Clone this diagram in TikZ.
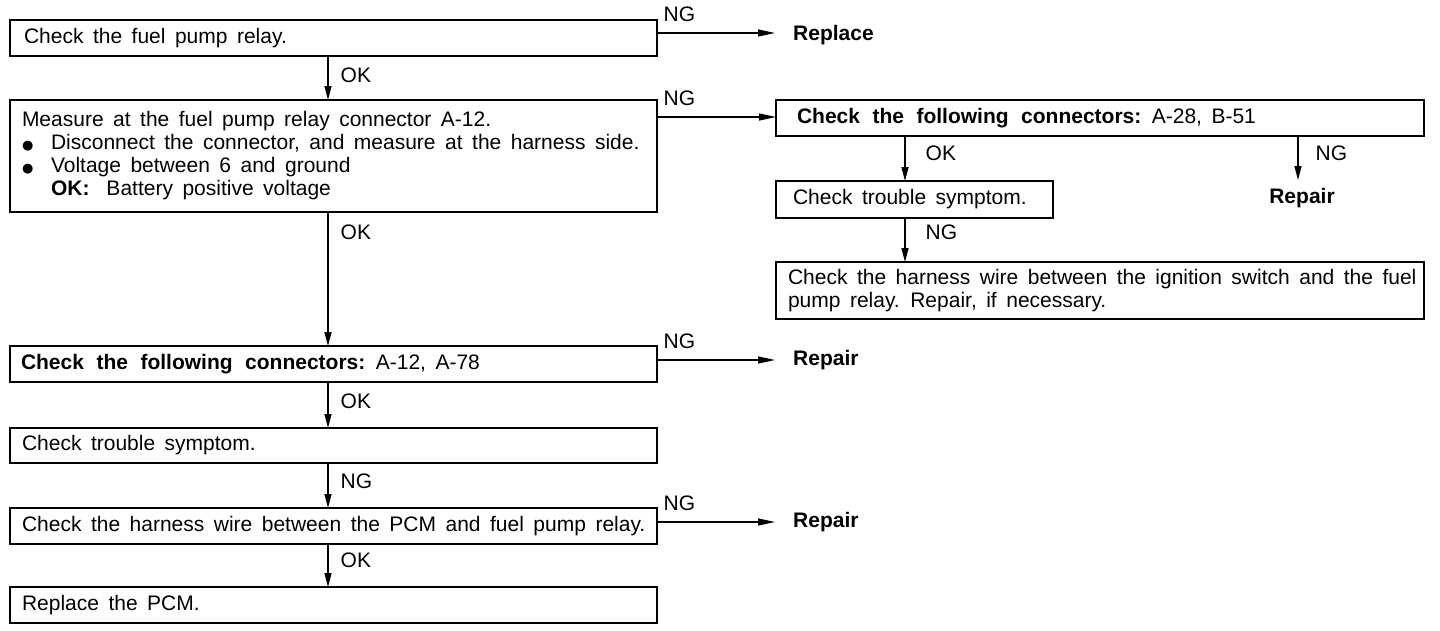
\documentclass[tikz,border=0pt]{standalone}
\usepackage{fontspec}
\setmainfont{Liberation Sans}
\newfontfamily\dejavu{DejaVu Sans}
\usetikzlibrary{arrows.meta}
\newcommand{\regfont}{\fontsize{21}{23}\selectfont}
\newcommand{\regsp}{\spaceskip=9.5pt plus 2pt minus 1pt\relax}
\newcommand{\bx}[1]{{\bfseries\spaceskip=12.5pt plus 2pt minus 1pt\relax #1}}
\newcommand{\blt}{\makebox[29pt][l]{\raisebox{0.3pt}{\dejavu\fontsize{13}{13}\selectfont ●}}}
\newcommand{\pad}[1][12pt]{\regsp\hspace*{#1}}
\begin{document}
\begin{tikzpicture}[x=1pt,y=-1pt,
  box/.style={draw, line width=1.6pt, rectangle, anchor=north west, inner xsep=0pt, inner ysep=0pt,
    align=left, font=\regfont, outer sep=0pt},
  thickbox/.style={box, line width=2.8pt},
  lbl/.style={inner sep=0pt, font=\regfont},
  res/.style={inner sep=0pt, font=\regfont\bfseries},
  arr/.style={line width=1.4pt, -{Triangle[length=14pt,width=7pt]}},
  harr/.style={line width=1.2pt, -{Triangle[length=17pt,width=7pt]}}
]
\useasboundingbox (0,0) rectangle (1440,630);
\fill[white] (0,0) rectangle (1440,630);

% left column
\node[thickbox, text width=647pt, minimum height=36pt] (b1) at (10,20) {\pad[14pt]Check the fuel pump relay.};
\node[box, text width=647pt, minimum height=112pt] (b2) at (10,100)
 {\pad Measure at the fuel pump relay connector A-12.\\
  \pad\blt Disconnect the connector, and measure at the harness side.\\
  \pad\blt Voltage between 6 and ground\\
  \pad[41pt]\textbf{OK:}\hspace{17pt}Battery positive voltage};
\node[box, text width=647pt, minimum height=36pt] (b3) at (10,346) {\pad[11pt]\bx{Check the following connectors:} A-12, A-78};
\node[box, text width=647pt, minimum height=35pt] (b4) at (10,428) {\pad Check trouble symptom.};
\node[box, text width=647pt, minimum height=36pt] (b5) at (10,508) {\pad Check the harness wire between the PCM and fuel pump relay.};
\node[box, text width=647pt, minimum height=36pt] (b6) at (10,587) {\pad Replace the PCM.};

% right column
\node[box, text width=648pt, minimum height=36pt] (r1) at (776,100) {\pad[21pt]\bx{Check the following connectors:} A-28, B-51};
\node[box, text width=277pt, minimum height=37pt] (r2) at (776,181) {\pad[17pt]Check trouble symptom.};
\node[box, text width=648pt, minimum height=57pt] (r3) at (776,262)
 {\pad Check the harness wire between the ignition switch and the fuel\\\pad pump relay. Repair, if necessary.};

% results
\node[res, anchor=west] (rep1) at (793,35) {Replace};
\node[res, anchor=west] (rep3) at (793,360) {Repair};
\node[res, anchor=west] (rep5) at (793,522) {Repair};
\node[res] (repR) at (1302,198) {Repair};

% column coordinates
\coordinate (cx) at (328,0);
\coordinate (rx) at (905,0);
\coordinate (qx) at (1298,0);
\coordinate (qend) at (1298,180);

% vertical arrows left
\draw[arr] (cx |- b1.south) -- (cx |- b2.north) node[lbl, pos=0, anchor=west, xshift=12pt, yshift=-19pt] {OK};
\draw[arr] (cx |- b2.south) -- (cx |- b3.north) node[lbl, pos=0, anchor=west, xshift=12pt, yshift=-20pt] {OK};
\draw[arr] (cx |- b3.south) -- (cx |- b4.north) node[lbl, pos=0, anchor=west, xshift=12pt, yshift=-19pt] {OK};
\draw[arr] (cx |- b4.south) -- (cx |- b5.north) node[lbl, pos=0, anchor=west, xshift=12pt, yshift=-18pt] {NG};
\draw[arr] (cx |- b5.south) -- (cx |- b6.north) node[lbl, pos=0, anchor=west, xshift=12pt, yshift=-16pt] {OK};

% horizontal NG arrows
\draw[harr, shorten >=18pt] ([yshift=-13pt]b1.north east) -- ([yshift=-13pt]b1.north east -| rep1.west)
  node[lbl, pos=0, anchor=south west, xshift=6pt, yshift=11pt] {NG};
\draw[harr] ([yshift=-17pt]b2.north east) -- ([yshift=-17pt]b2.north east -| r1.west)
  node[lbl, pos=0, anchor=south west, xshift=6pt, yshift=11pt] {NG};
\draw[harr, shorten >=18pt] ([yshift=-14pt]b3.north east) -- ([yshift=-14pt]b3.north east -| rep3.west)
  node[lbl, pos=0, anchor=south west, xshift=6pt, yshift=11pt] {NG};
\draw[harr, shorten >=18pt] ([yshift=-14pt]b5.north east) -- ([yshift=-14pt]b5.north east -| rep5.west)
  node[lbl, pos=0, anchor=south west, xshift=6pt, yshift=11pt] {NG};

% right arrows
\draw[arr] (rx |- r1.south) -- (rx |- r2.north) node[lbl, pos=0, anchor=west, xshift=20pt, yshift=-17pt] {OK};
\draw[arr] (rx |- r2.south) -- (rx |- r3.north) node[lbl, pos=0, anchor=west, xshift=20pt, yshift=-14pt] {NG};
\draw[arr] (qx |- r1.south) -- (qend) node[lbl, pos=0, anchor=west, xshift=17pt, yshift=-17pt] {NG};
\end{tikzpicture}
\end{document}
